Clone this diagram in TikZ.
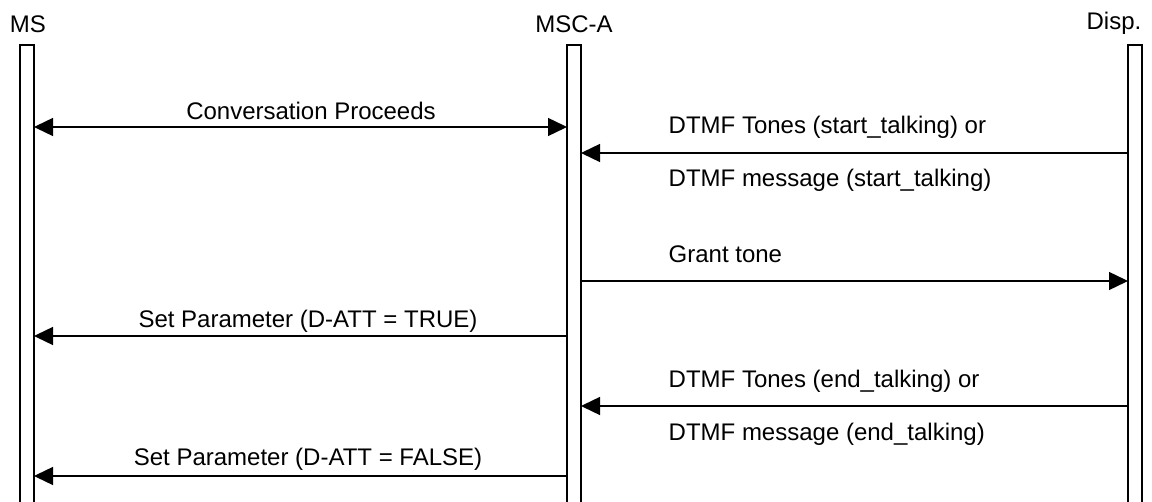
\documentclass[tikz,border=0pt]{standalone}
\usepackage{fontspec}
\setmainfont{Liberation Sans}
\usetikzlibrary{arrows.meta}
\begin{document}
\begin{tikzpicture}[x=0.5pt,y=-0.5pt,
  font=\fontsize{12pt}{14pt}\selectfont,
  line width=0.7pt,
  life/.style={draw=none, minimum width=7pt, minimum height=228.5pt, inner sep=0pt, outer sep=0pt, anchor=north west},
  msg/.style={-{Triangle[length=9.5pt,width=9pt]}},
  both/.style={{Triangle[length=9.5pt,width=9pt]}-{Triangle[length=9.5pt,width=9pt]}},
  lbl/.style={anchor=base, inner sep=0pt},
  lblw/.style={anchor=base west, inner sep=0pt}]
\useasboundingbox (0,0) rectangle (1152,502);
% lifelines
\node[life] (ms) at (20,45) {};
\node[life] (msc) at (567,45) {};
\node[life] (disp) at (1128,45) {};
\foreach \n in {ms,msc,disp}{
  \draw (\n.south west) -- (\n.north west) -- (\n.north east) -- (\n.south east);
}
% headers
\node[lbl] (msT) at (28,33) {MS};
\node[lbl] (mscT) at (574,33) {MSC-A};
\node[anchor=base east, inner sep=0pt] (dispT) at (1142,30) {Disp.};
% message levels
\coordinate (y1) at (0,127);
\coordinate (y2) at (0,153);
\coordinate (y3) at (0,281);
\coordinate (y4) at (0,336);
\coordinate (y5) at (0,406);
\coordinate (y6) at (0,476);
% messages
\draw[both] (ms.east |- y1) -- (msc.west |- y1);
\node[lbl] (l1) at (311,120) {Conversation Proceeds};
\draw[msg] (disp.west |- y2) -- (msc.east |- y2);
\node[lblw] (l2a) at (668,134) {DTMF Tones (start\_talking) or};
\node[lblw] (l2b) at (668,187) {DTMF message (start\_talking)};
\draw[msg] (msc.east |- y3) -- (disp.west |- y3);
\node[lblw] (l3) at (668,263) {Grant tone};
\draw[msg] (msc.west |- y4) -- (ms.east |- y4);
\node[lbl] (l4) at (308,328) {Set Parameter (D-ATT = TRUE)};
\draw[msg] (disp.west |- y5) -- (msc.east |- y5);
\node[lblw] (l5a) at (668,387) {DTMF Tones (end\_talking) or};
\node[lblw] (l5b) at (668,440) {DTMF message (end\_talking)};
\draw[msg] (msc.west |- y6) -- (ms.east |- y6);
\node[lbl] (l6) at (308,466) {Set Parameter (D-ATT = FALSE)};
\end{tikzpicture}
\end{document}
